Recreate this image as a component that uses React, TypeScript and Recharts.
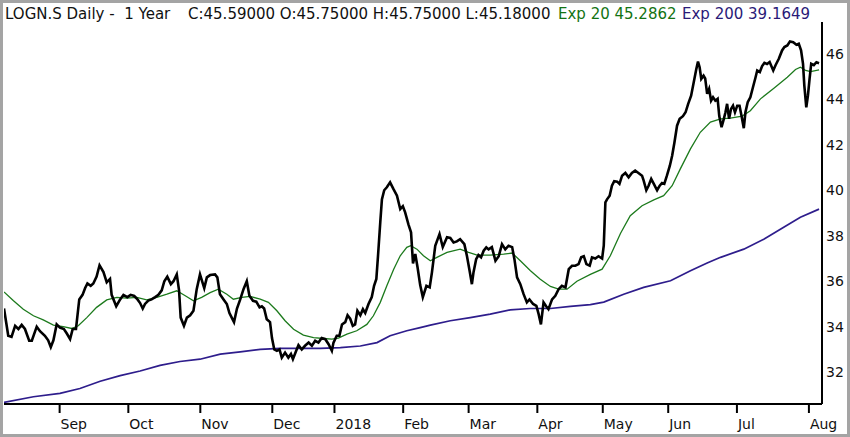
// LOGN.S daily, 1 year: close with 20- and 200-day exponential averages.
// X is the trading-day number (0 = first bar), month ticks sit on the first trading day of each month.
import React from 'react';
import { LineChart, Line, XAxis, YAxis } from 'recharts';

const MONTH_DAYS = [17, 38, 60, 82, 101, 122, 142, 163, 183, 203, 224, 246];
const MONTH_LABELS = ['Sep', 'Oct', 'Nov', 'Dec', '2018', 'Feb', 'Mar', 'Apr', 'May', 'Jun', 'Jul', 'Aug'];
const PRICE_TICKS = [32, 34, 36, 38, 40, 42, 44, 46];

// [trading day, price]
const CLOSE: [number, number][] = [
  [0, 34.8], [1.3, 33.6], [2.3, 33.55], [3.4, 34.04], [4.4, 33.9], [5.4, 34.08], [6.4, 33.9], [7.7, 33.38],
  [8.5, 33.38], [10, 34.0], [11, 33.8], [12.5, 33.6], [13.5, 33.4], [14.3, 33.1], [15.1, 33.4], [16.1, 34.1],
  [17.1, 33.96], [18.3, 33.9], [19.2, 33.7], [20.2, 33.45], [21, 33.9], [22, 33.9], [23, 35.2], [24, 35.4],
  [24.8, 35.7], [25.5, 35.9], [26.5, 35.8], [27.3, 35.9], [28.3, 36.2], [29.2, 36.7], [30.4, 36.4], [31.4, 35.95],
  [32.4, 36.1], [32.9, 35.4], [34.3, 34.9], [35.5, 35.2], [36.5, 35.4], [37.7, 35.3], [38.7, 35.4], [39.8, 35.35],
  [40.8, 35.2], [41.6, 35.04], [42.4, 34.8], [43.1, 35.0], [44.1, 35.15], [45.1, 35.2], [46.2, 35.3], [47.2, 35.4],
  [48.2, 35.6], [49, 36.0], [49.9, 36.2], [51, 35.87], [51.8, 36.0], [52.8, 36.3], [53.5, 35.6], [54, 34.4],
  [55, 34.04], [55.9, 34.4], [56.9, 34.5], [57.9, 34.7], [58.9, 35.65], [59.9, 36.3], [61.2, 35.7], [62, 36.17],
  [63, 36.27], [64.5, 36.3], [65.2, 36.17], [66, 35.43], [67.1, 35.2], [68.1, 35.0], [68.9, 34.6], [69.6, 34.4],
  [70.3, 34.2], [71.2, 34.8], [72.2, 35.2], [73.2, 35.65], [74.2, 36.0], [75, 35.36], [76.1, 35.14], [77.1, 35.1],
  [78.1, 34.85], [78.8, 34.9], [79.5, 34.8], [80.3, 34.33], [81.3, 34.2], [81.9, 33.5], [82.6, 33.0], [83.4, 32.94],
  [84.2, 33.0], [84.9, 32.64], [85.9, 32.86], [86.9, 32.64], [87.7, 32.8], [88.3, 32.57], [89.3, 32.94], [90, 33.19],
  [91, 33.0], [92, 33.16], [93.1, 33.3], [94.1, 33.16], [95.1, 33.38], [96.1, 33.3], [97.1, 33.5], [98.2, 33.45],
  [99.2, 33.23], [100.2, 32.94], [100.7, 33.3], [101.7, 33.6], [102.5, 33.6], [103.3, 34.1], [104.3, 34.2], [105, 34.5],
  [105.8, 34.35], [106.6, 34.04], [107.3, 34.1], [108, 34.7], [108.9, 34.5], [109.7, 34.77], [110.4, 34.6], [111.4, 35.0],
  [112.4, 35.3], [113.1, 35.8], [113.8, 36.1], [114.3, 37.1], [115, 38.6], [115.5, 39.6], [116.2, 40.0], [117, 40.13],
  [118, 40.35], [119, 40.06], [120.1, 39.76], [121.1, 39.17], [121.9, 39.3], [122.6, 39.03], [123.6, 38.5], [124.4, 38.15],
  [125, 36.78], [125.7, 37.2], [126.4, 36.6], [127.2, 35.83], [128, 35.3], [129.1, 35.8], [130.1, 35.73], [130.8, 36.4],
  [131.8, 37.56], [133.1, 38.07], [134.1, 37.5], [135.4, 37.93], [136.4, 37.9], [137.4, 37.7], [138.4, 37.75], [139.4, 37.85],
  [140.7, 37.63], [141.5, 37.1], [142.3, 36.46], [143, 35.87], [143.5, 36.4], [144.3, 36.97], [145, 37.15], [145.8, 37.05],
  [146.6, 37.34], [147.4, 37.49], [148.1, 37.4], [149.1, 37.5], [150.2, 36.9], [151.2, 37.1], [152.2, 37.63], [153.2, 37.4],
  [154.2, 37.56], [155.3, 37.5], [156, 36.97], [156.8, 36.17], [157.8, 35.87], [158.8, 35.43], [159.8, 35.07], [160.6, 35.2],
  [161.7, 35.0], [162.7, 34.92], [163.4, 34.55], [164.1, 34.1], [164.9, 35.07], [165.7, 34.9], [166.4, 34.77], [167.5, 35.2],
  [168.5, 35.36], [169.5, 35.65], [170.5, 35.8], [171.6, 35.73], [172.6, 36.53], [173.6, 36.68], [174.6, 36.68], [175.6, 36.75],
  [176.4, 37.05], [177.2, 37.1], [178, 36.75], [179, 36.68], [179.7, 37.05], [180.7, 37.0], [181.7, 37.1], [182.8, 37.0],
  [183.3, 37.56], [183.8, 39.47], [184.3, 39.6], [185.1, 39.76], [185.8, 40.2], [186.5, 40.4], [187.4, 40.38], [188.1, 40.28],
  [188.9, 40.64], [189.9, 40.76], [190.9, 40.57], [191.9, 40.76], [192.9, 40.86], [193.9, 40.76], [195, 40.64], [195.5, 40.42],
  [196.3, 40.0], [197, 40.2], [197.8, 40.5], [198.6, 40.28], [199.6, 40.0], [200.4, 40.2], [201.1, 40.32], [201.8, 40.28],
  [202.6, 40.64], [203.5, 41.08], [204.2, 41.52], [204.9, 42.1], [205.7, 42.84], [206.5, 43.14], [207.5, 43.26], [208.3, 43.43],
  [209.1, 43.8], [210, 44.16], [210.8, 44.75], [211.6, 45.34], [212.1, 45.66], [212.6, 45.41], [213.1, 44.9], [213.8, 45.04],
  [214.3, 44.92], [214.9, 44.24], [215.5, 44.46], [216.1, 43.94], [216.7, 44.09], [217.4, 43.94], [218.1, 44.02], [218.6, 43.26],
  [219.3, 42.77], [220, 43.14], [220.5, 43.43], [221, 43.8], [221.6, 43.14], [222.2, 43.58], [222.8, 43.72], [223.4, 43.43],
  [224.1, 43.72], [224.8, 43.72], [225.4, 43.28], [226.1, 42.73], [226.6, 43.43], [227.3, 43.87], [228.1, 44.09], [228.9, 44.53],
  [229.7, 44.97], [230.2, 45.27], [231, 45.2], [231.7, 45.46], [232.4, 45.6], [233.2, 45.55], [234, 45.64], [235.1, 45.27],
  [235.8, 45.5], [236.8, 45.78], [237.8, 46.15], [238.5, 46.3], [239.4, 46.37], [240.2, 46.54], [241.2, 46.51], [242.2, 46.4],
  [242.9, 46.44], [243.6, 46.15], [244.2, 45.56], [244.6, 44.6], [245.2, 43.65], [245.7, 44.16], [246.2, 44.9], [246.7, 45.56],
  [247.5, 45.5], [248.3, 45.63], [249.1, 45.59],
];

const EXP20: [number, number][] = [
  [0, 35.53], [2.9, 35.14], [5.9, 34.77], [9, 34.48], [12, 34.3], [15.1, 34.07], [18.1, 34.0], [20.7, 33.92],
  [22.7, 34.04], [25.3, 34.4], [28.3, 34.85], [31.4, 35.18], [34.5, 35.29], [37.5, 35.26], [40.6, 35.29], [43.6, 35.18],
  [46.7, 35.29], [49.8, 35.43], [52.8, 35.58], [55.4, 35.36], [57.9, 35.14], [60.4, 35.29], [63, 35.5], [65.5, 35.65],
  [68.1, 35.43], [70.1, 35.21], [72.7, 35.29], [75.2, 35.33], [78.3, 35.21], [80.8, 35.07], [83.4, 34.7], [85.9, 34.26],
  [88.5, 33.89], [91.5, 33.63], [94.6, 33.52], [97.6, 33.48], [100.2, 33.45], [102.2, 33.5], [104.8, 33.67], [107.8, 33.82],
  [110.9, 34.1], [112.9, 34.48], [115, 35.07], [117, 35.8], [119.1, 36.53], [121.1, 37.12], [123.1, 37.49], [124.3, 37.56],
  [126.2, 37.41], [128.2, 37.12], [130.3, 36.9], [132.3, 37.05], [135.4, 37.27], [139.4, 37.41], [142, 37.27], [144.6, 37.15],
  [148.6, 37.15], [152.7, 37.19], [155.3, 37.24], [157.8, 36.9], [160.9, 36.46], [163.9, 36.09], [167, 35.77], [169.5, 35.65],
  [172.1, 35.65], [175.1, 36.0], [179.2, 36.3], [182.8, 36.53], [185.3, 37.12], [188.4, 38.1], [191.4, 38.88], [195, 39.32],
  [198.6, 39.58], [201.6, 39.76], [204.2, 40.2], [206.7, 40.94], [209.8, 41.82], [212.8, 42.55], [215.9, 43.0], [219, 43.14],
  [222, 43.17], [225.6, 43.26], [228.1, 43.5], [231.2, 44.02], [235.3, 44.49], [239.4, 44.97], [241.9, 45.31], [243.4, 45.41],
  [245, 45.27], [246.5, 45.22], [249.1, 45.29],
];

const EXP200: [number, number][] = [
  [0, 30.67], [9, 30.92], [17.1, 31.07], [23.2, 31.28], [29.4, 31.6], [35.5, 31.85], [41.6, 32.05], [47.7, 32.3],
  [53.8, 32.47], [59.9, 32.57], [66.1, 32.79], [72.2, 32.89], [78.3, 33.0], [84.4, 33.05], [90.5, 33.05], [96.6, 33.05],
  [102.8, 33.08], [108.9, 33.15], [114, 33.3], [118, 33.6], [123.1, 33.82], [127.2, 33.96], [130.3, 34.07], [136.4, 34.26],
  [142.5, 34.4], [148.6, 34.55], [154.7, 34.74], [160.8, 34.8], [167, 34.8], [173.1, 34.89], [179.2, 34.97], [183.3, 35.08],
  [189.4, 35.43], [195.5, 35.73], [203.7, 36.02], [209.8, 36.46], [214.9, 36.8], [219, 37.05], [226.1, 37.41], [232.2, 37.85],
  [238.3, 38.37], [243.4, 38.81], [249.1, 39.17],
];

const toRows = (pts: [number, number][]) => pts.map(([day, value]) => ({ day, value }));

const FONT = '"DejaVu Sans", Verdana, sans-serif';
const W = 850;
const H = 437;

const MonthTick = (props: any) => {
  const { x, y, payload } = props;
  const label = MONTH_LABELS[MONTH_DAYS.indexOf(payload.value)];
  return (
    <text x={x + 1} y={y + 14} fontSize={14} fontFamily={FONT} fill="#111">
      {label}
    </text>
  );
};

// header pieces, each pinned where it starts in the original
const Header = () => (
  <g fontFamily={FONT} fontSize={15} xmlSpace="preserve" style={{ whiteSpace: 'pre' }}>
    <text x={5} y={19} fill="#111">{'LOGN.S Daily -\u00a0\u00a01 Year'}</text>
    <text x={188} y={19} fill="#111">{'C:45.59000 O:45.75000 H:45.75000 L:45.18000'}</text>
    <text x={558} y={19} fill="#137313">{'Exp 20 45.2862'}</text>
    <text x={682} y={19} fill="#2a1a78">{'Exp 200 39.1649'}</text>
  </g>
);

export default function App() {
  return (
    <div style={{ position: 'relative', width: W, height: H, background: '#fff' }}>
      <style>{'body{margin:0}'}</style>
      <LineChart width={W} height={H} margin={{ top: 22, right: 0, bottom: 0, left: 4 }}>
        <XAxis
          dataKey="day"
          type="number"
          domain={[0, 250]}
          ticks={MONTH_DAYS}
          interval={0}
          tick={<MonthTick />}
          tickSize={9}
          tickMargin={2}
          height={33}
          axisLine={{ stroke: '#000', strokeWidth: 2 }}
          tickLine={{ stroke: '#000', strokeWidth: 2 }}
          allowDataOverflow
        />
        <YAxis
          orientation="right"
          type="number"
          domain={[30.6, 47.4]}
          ticks={PRICE_TICKS}
          interval={0}
          width={28}
          tickSize={2}
          tickMargin={2}
          tickLine={false}
          axisLine={{ stroke: '#000', strokeWidth: 2 }}
          tick={{ fontSize: 14, fontFamily: FONT, fill: '#111' }}
          allowDataOverflow
        />
        <Line data={toRows(EXP200)} dataKey="value" stroke="#2e1d8c" strokeWidth={1.7} dot={false} isAnimationActive={false} />
        <Line data={toRows(EXP20)} dataKey="value" stroke="#1c7a1c" strokeWidth={1.3} dot={false} isAnimationActive={false} />
        <Line data={toRows(CLOSE)} dataKey="value" stroke="#000" strokeWidth={2.6} dot={false} isAnimationActive={false} />
      </LineChart>
      <svg width={W} height={H} style={{ position: 'absolute', left: 0, top: 0, pointerEvents: 'none' }}>
        <rect x={1.5} y={1.5} width={W - 3} height={H - 3} fill="none" stroke="#a4a4a4" strokeWidth={3} />
        <Header />
      </svg>
    </div>
  );
}
